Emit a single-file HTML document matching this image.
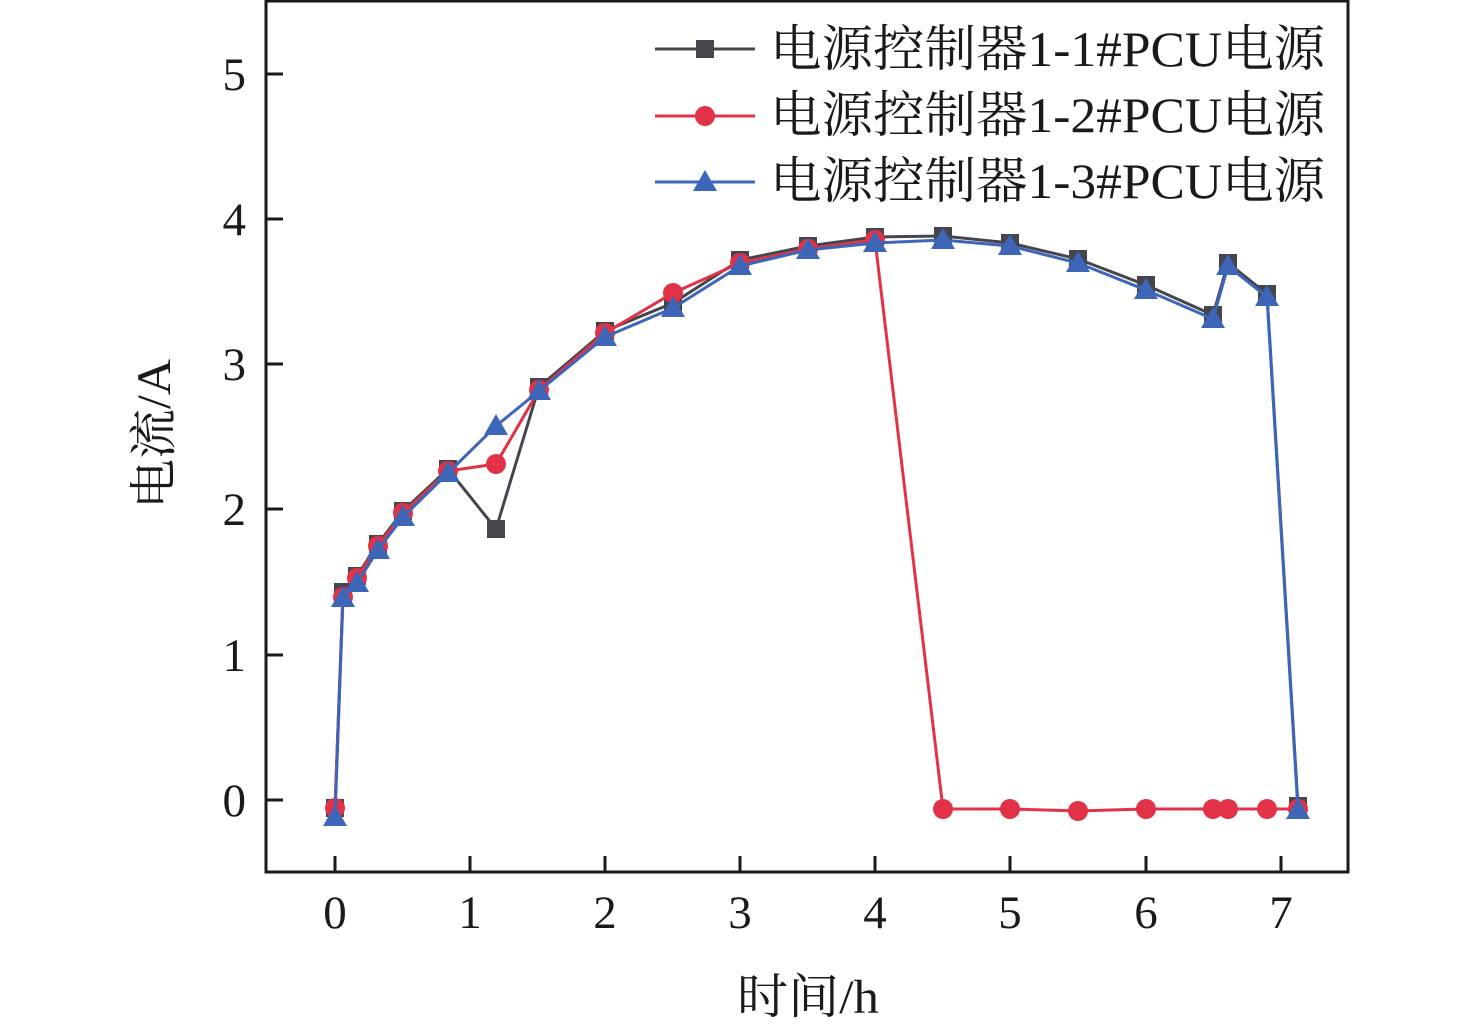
<!DOCTYPE html>
<html><head><meta charset="utf-8"><style>
html,body{margin:0;padding:0;background:#fff}
svg{display:block}
text{font-family:"Liberation Serif","Noto Serif CJK SC",serif;fill:#1a1a1a}
</style></head><body>
<svg width="1476" height="1030" viewBox="0 0 1476 1030" xmlns="http://www.w3.org/2000/svg">
<defs>
<marker id="sq" markerUnits="userSpaceOnUse" markerWidth="20" markerHeight="20" refX="10" refY="10"><rect x="1" y="1" width="18" height="18" fill="#45464d"/></marker>
<marker id="ci" markerUnits="userSpaceOnUse" markerWidth="22" markerHeight="22" refX="11" refY="11"><circle cx="11" cy="11" r="10" fill="#e23247"/></marker>
<marker id="tr" markerUnits="userSpaceOnUse" markerWidth="26" markerHeight="24" refX="13" refY="13"><polygon points="13,1 25,22 1,22" fill="#3e66b8"/></marker>
</defs>
<rect x="266" y="1" width="1082" height="871" fill="none" stroke="#1a1a1a" stroke-width="3"/>
<g stroke="#1a1a1a" stroke-width="3">
<line x1="266" y1="74" x2="283" y2="74"/><line x1="266" y1="219" x2="283" y2="219"/><line x1="266" y1="364" x2="283" y2="364"/><line x1="266" y1="509" x2="283" y2="509"/><line x1="266" y1="655" x2="283" y2="655"/><line x1="266" y1="800" x2="283" y2="800"/>
<line x1="335" y1="872" x2="335" y2="856"/><line x1="470" y1="872" x2="470" y2="856"/><line x1="605" y1="872" x2="605" y2="856"/><line x1="740" y1="872" x2="740" y2="856"/><line x1="875" y1="872" x2="875" y2="856"/><line x1="1010" y1="872" x2="1010" y2="856"/><line x1="1146" y1="872" x2="1146" y2="856"/><line x1="1281" y1="872" x2="1281" y2="856"/>
</g>
<g font-size="47" text-anchor="end">
<text x="246" y="90">5</text><text x="246" y="235">4</text><text x="246" y="380">3</text><text x="246" y="525">2</text><text x="246" y="671">1</text><text x="246" y="816">0</text>
</g>
<g font-size="47" text-anchor="middle">
<text x="335" y="928">0</text><text x="470" y="928">1</text><text x="605" y="928">2</text><text x="740" y="928">3</text><text x="875" y="928">4</text><text x="1010" y="928">5</text><text x="1146" y="928">6</text><text x="1281" y="928">7</text>
</g>
<text x="808" y="1013" font-size="48" text-anchor="middle" textLength="142" lengthAdjust="spacingAndGlyphs">时间/h</text>
<text transform="translate(170,434) rotate(-90)" font-size="48" text-anchor="middle" textLength="150" lengthAdjust="spacingAndGlyphs">电流/A</text>
<polyline fill="none" stroke="#45464d" stroke-width="3" marker-start="url(#sq)" marker-mid="url(#sq)" marker-end="url(#sq)" points="335,808 343,592 357,576 378,544 403,511 448,469 496,529 539,387 605,331 673,303 740,260 808,246 875,237 943,236 1010,243 1078,259 1146,285 1213,315 1228,263 1267,294 1298,806"/>
<polyline fill="none" stroke="#e23247" stroke-width="3" marker-start="url(#ci)" marker-mid="url(#ci)" marker-end="url(#ci)" points="335,808 343,597 357,578 378,546 403,513 448,471 496,464 539,390 605,333 673,293 740,263 808,249 875,240 943,809 1010,809 1078,811 1146,809 1213,809 1228,809 1267,809 1298,809"/>
<polyline fill="none" stroke="#3e66b8" stroke-width="3" marker-start="url(#tr)" marker-mid="url(#tr)" marker-end="url(#tr)" points="335,817 343,598 357,583 378,550 403,517 448,473 496,426 539,391 605,337 673,308 740,266 808,250 875,243 943,240 1010,246 1078,263 1146,290 1213,319 1228,266 1267,297 1298,810"/>
<line x1="655" y1="49" x2="755" y2="49" stroke="#45464d" stroke-width="3"/><rect x="696" y="40" width="18" height="18" fill="#45464d"/>
<line x1="655" y1="116" x2="755" y2="116" stroke="#e23247" stroke-width="3"/><circle cx="705" cy="116" r="10" fill="#e23247"/>
<line x1="655" y1="182" x2="755" y2="182" stroke="#3e66b8" stroke-width="3"/><polygon points="705,170 717,191 693,191" fill="#3e66b8"/>
<g font-size="50">
<text x="770" y="66" textLength="555" lengthAdjust="spacingAndGlyphs">电源控制器1-1#PCU电源</text>
<text x="770" y="132" textLength="555" lengthAdjust="spacingAndGlyphs">电源控制器1-2#PCU电源</text>
<text x="770" y="198" textLength="555" lengthAdjust="spacingAndGlyphs">电源控制器1-3#PCU电源</text>
</g>
</svg>
</body></html>
